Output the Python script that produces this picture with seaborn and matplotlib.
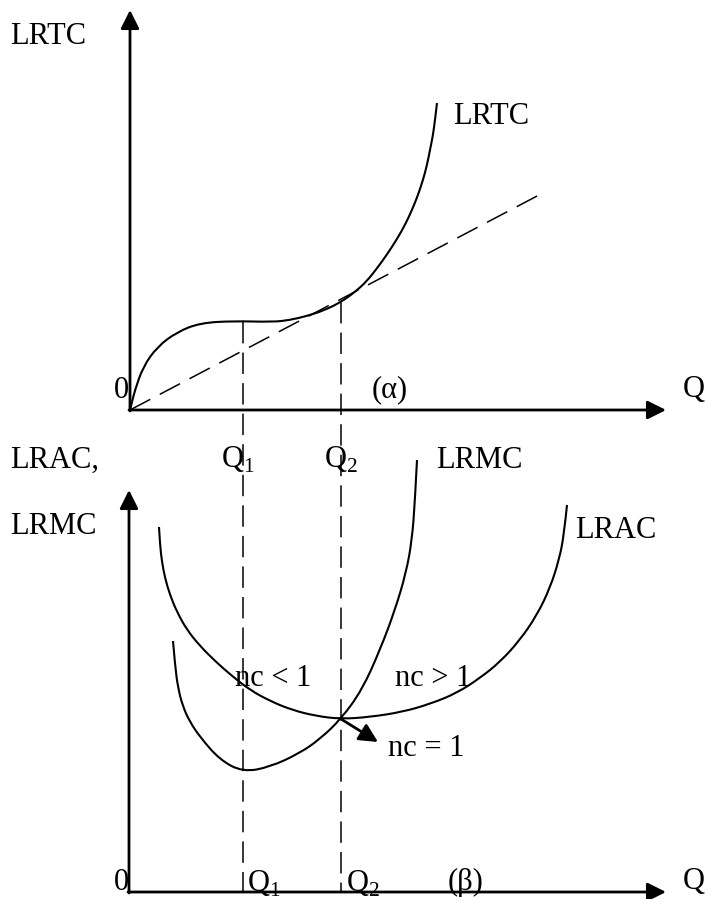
import numpy as np
import pandas as pd
import seaborn as sns
import matplotlib.pyplot as plt
from matplotlib.path import Path
from matplotlib.patches import PathPatch

# coordonate (pixeli, y in jos)
# panel (α): costul total pe termen lung
lrtc_x = [130, 132, 135, 143, 157, 177, 200, 233, 273, 290, 307, 325, 341, 355, 367, 378, 388, 397, 405, 412, 418, 423, 427, 430, 433, 435, 437]
lrtc_y = [410, 402, 390, 367, 347, 332, 323, 321, 322, 320, 316, 310, 302, 292, 281, 267, 253, 239, 225, 210, 195, 180, 165, 150, 135, 120, 103]
ray_x = [130, 539]
ray_y = [410, 195]

# panel (β): costul mediu si marginal
lrac_x = [159, 160, 162, 165, 170, 177, 187, 200, 215, 232, 250, 270, 292, 316, 341, 370, 402, 430, 457, 480, 500, 520, 537, 550, 559, 564, 567]
lrac_y = [527, 545, 562, 578, 595, 612, 630, 646, 661, 676, 690, 701, 710, 716, 719, 717, 712, 704, 693, 678, 662, 640, 615, 588, 560, 535, 505]
lrmc_x = [173, 175, 178, 183, 190, 200, 220, 243, 270, 300, 320, 341, 362, 380, 395, 406, 412, 415, 417]
lrmc_y = [641, 665, 688, 707, 722, 737, 760, 772, 767, 753, 739, 719, 690, 650, 610, 573, 540, 500, 460]

q1 = 243
q2 = 341
top_origin = (130, 410)
bot_origin = (129, 892)
axis_end = 666

sns.set_style('white')
plt.rcParams['font.family'] = ['Liberation Serif', 'DejaVu Serif']

fig = plt.figure(figsize=(7.11, 8.99), dpi=100)
ax = fig.add_axes([0, 0, 1, 1])
ax.set_xlim(0, 711)
ax.set_ylim(899, 0)
ax.axis('off')


def smooth_curve(xs, ys, **kw):
    # curba neteda (bezier patratic) cu punctele citite ca puncte de control
    pts = list(zip(xs, ys))
    verts = [pts[0]]
    codes = [Path.MOVETO]
    for i in range(1, len(pts) - 1):
        end = pts[i + 1] if i == len(pts) - 2 else ((pts[i][0] + pts[i + 1][0]) / 2, (pts[i][1] + pts[i + 1][1]) / 2)
        verts += [pts[i], end]
        codes += [Path.CURVE3, Path.CURVE3]
    ax.add_patch(PathPatch(Path(verts, codes), fill=False, **kw))


fs = 22
arrow_kw = dict(arrowstyle='-|>', lw=2.0, color='black', mutation_scale=28, shrinkA=0, shrinkB=0)

# axe
for ox, oy, top in [(top_origin[0], top_origin[1], 10), (bot_origin[0], bot_origin[1], 490)]:
    ax.annotate('', xy=(ox, top), xytext=(ox, oy + 1), arrowprops=arrow_kw)
    ax.annotate('', xy=(axis_end, oy), xytext=(ox - 1, oy), arrowprops=arrow_kw)

# curbe
smooth_curve(lrtc_x, lrtc_y, color='black', lw=1.5)
smooth_curve(lrac_x, lrac_y, color='black', lw=1.5)
smooth_curve(lrmc_x, lrmc_y, color='black', lw=1.5)
ray = pd.DataFrame({'x': ray_x, 'y': ray_y})
sns.lineplot(data=ray, x='x', y='y', sort=False, estimator=None, color='black', lw=1.1,
             linestyle=(0, (15, 7)), ax=ax)

# linii verticale punctate la Q1 si Q2
for q, ytop in [(q1, lrtc_y[lrtc_x.index(233)] + 1), (q2, lrtc_y[lrtc_x.index(341)])]:
    sns.lineplot(x=[q, q], y=[ytop, bot_origin[1]], sort=False, estimator=None, color='black', lw=1.1,
                 linestyle=(0, (14, 6)), ax=ax)

# sageata nc = 1
ax.annotate('', xy=(378, 742), xytext=(q2, 719),
            arrowprops=dict(arrowstyle='-|>', lw=2.0, color='black', mutation_scale=28, shrinkA=0, shrinkB=0))

# texte
txt = dict(fontsize=fs, color='black', va='center', ha='left')
ax.text(10, 36, 'LRTC', **txt)
ax.text(453, 117, 'LRTC', **txt)
ax.text(114, 390, '0', **txt)
ax.text(372, 390, '(α)', **txt)
ax.text(683, 390, 'Q', **txt)
ax.text(221, 460, r'Q$_\mathregular{1}$', **txt)
ax.text(324, 460, r'Q$_\mathregular{2}$', **txt)
ax.text(10, 460, 'LRAC,', **txt)
ax.text(436, 460, 'LRMC', **txt)
ax.text(10, 527, 'LRMC', **txt)
ax.text(575, 530, 'LRAC', **txt)
ax.text(235, 679, 'nc < 1', **txt)
ax.text(395, 679, 'nc > 1', **txt)
ax.text(388, 748, 'nc = 1', **txt)
ax.text(114, 882, '0', **txt)
ax.text(247, 884, r'Q$_\mathregular{1}$', **txt)
ax.text(346, 884, r'Q$_\mathregular{2}$', **txt)
ax.text(448, 882, '(β)', **txt)
ax.text(683, 882, 'Q', **txt)

fig.savefig('out.png', dpi=100, facecolor='white')
